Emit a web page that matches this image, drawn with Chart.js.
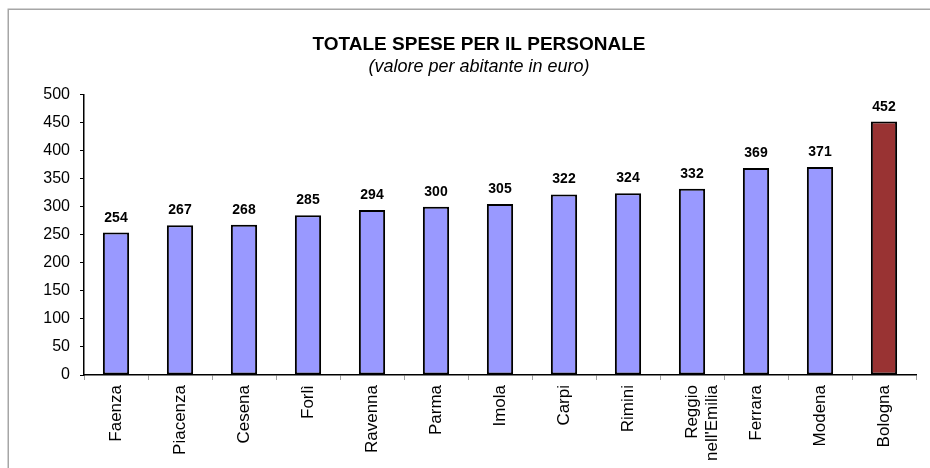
<!DOCTYPE html>
<html>
<head>
<meta charset="utf-8">
<script src="https://cdn.jsdelivr.net/npm/chart.js@4/dist/chart.umd.min.js"></script>
<style>
html,body{margin:0;padding:0;background:#fff;}
canvas{display:block;}
</style>
</head>
<body>
<canvas id="c" width="930" height="468"></canvas>
<script>
const categories = ["Faenza","Piacenza","Cesena","Forlì","Ravenna","Parma","Imola","Carpi","Rimini",["Reggio","nell'Emilia"],"Ferrara","Modena","Bologna"];
const values = [254,267,268,285,294,300,305,322,324,332,369,371,452];
const barColors = ["#9999FF","#9999FF","#9999FF","#9999FF","#9999FF","#9999FF","#9999FF","#9999FF","#9999FF","#9999FF","#9999FF","#9999FF","#993333"];
const yTicks = [0,50,100,150,200,250,300,350,400,450,500];
const titleText = "TOTALE SPESE PER IL PERSONALE";
const subtitleText = "(valore per abitante in euro)";

const FONT = "'Liberation Sans', Arial, Helvetica, sans-serif";

const frame = {
  id: 'frame',
  beforeDraw(chart) {
    const ctx = chart.ctx;
    ctx.save();
    ctx.fillStyle = '#fff';
    ctx.fillRect(0, 0, chart.width, chart.height);
    ctx.strokeStyle = '#a6a6a6';
    ctx.lineWidth = 1.5;
    ctx.strokeRect(8.25, 9.25, chart.width + 20, chart.height + 20);
    ctx.restore();
  }
};

const valueLabels = {
  id: 'valueLabels',
  afterDatasetsDraw(chart) {
    const ctx = chart.ctx;
    const meta = chart.getDatasetMeta(0);
    ctx.save();
    ctx.font = "bold 14px " + FONT;
    ctx.fillStyle = '#000';
    ctx.textAlign = 'center';
    ctx.textBaseline = 'alphabetic';
    meta.data.forEach((bar, i) => {
      ctx.fillText(String(values[i]), bar.x, bar.y - 11);
    });
    ctx.restore();
  }
};

new Chart(document.getElementById('c'), {
  type: 'bar',
  data: {
    labels: categories,
    datasets: [{
      data: values,
      backgroundColor: barColors,
      borderColor: '#000',
      borderWidth: 2,
      borderSkipped: false,
      categoryPercentage: 1,
      barPercentage: 0.41
    }]
  },
  options: {
    responsive: false,
    animation: false,
    devicePixelRatio: 1,
    layout: { padding: { left: 42, right: 14, top: 0, bottom: 0 } },
    plugins: {
      legend: { display: false },
      tooltip: { enabled: false },
      title: {
        display: true,
        text: titleText,
        color: '#000',
        font: { family: FONT, size: 19, weight: 'bold', lineHeight: 1.2 },
        padding: { top: 33, bottom: 0 }
      },
      subtitle: {
        display: true,
        text: subtitleText,
        color: '#000',
        font: { family: FONT, size: 18, style: 'italic', lineHeight: 1.1 },
        padding: { top: 1, bottom: 18 }
      }
    },
    scales: {
      x: {
        offset: true,
        grid: { offset: true, drawOnChartArea: false, drawTicks: true, tickLength: 5, color: '#a0a0a0' },
        border: { display: true, color: '#000', width: 1.5 },
        ticks: {
          color: '#000',
          font: { family: FONT, size: 17 },
          maxRotation: 90, minRotation: 90,
          padding: 5,
          autoSkip: false
        },
        afterFit(scale) { scale.height = 93; }
      },
      y: {
        min: 0, max: 500,
        afterBuildTicks(scale) { scale.ticks = yTicks.map(v => ({ value: v })); },
        grid: { drawOnChartArea: false, drawTicks: true, tickLength: 4, color: '#000' },
        border: { display: true, color: '#000', width: 1.5 },
        ticks: {
          color: '#000',
          font: { family: FONT, size: 16 },
          padding: 10
        },
        afterFit(scale) { scale.width = 42; }
      }
    }
  },
  plugins: [frame, valueLabels]
});
</script>
</body>
</html>
